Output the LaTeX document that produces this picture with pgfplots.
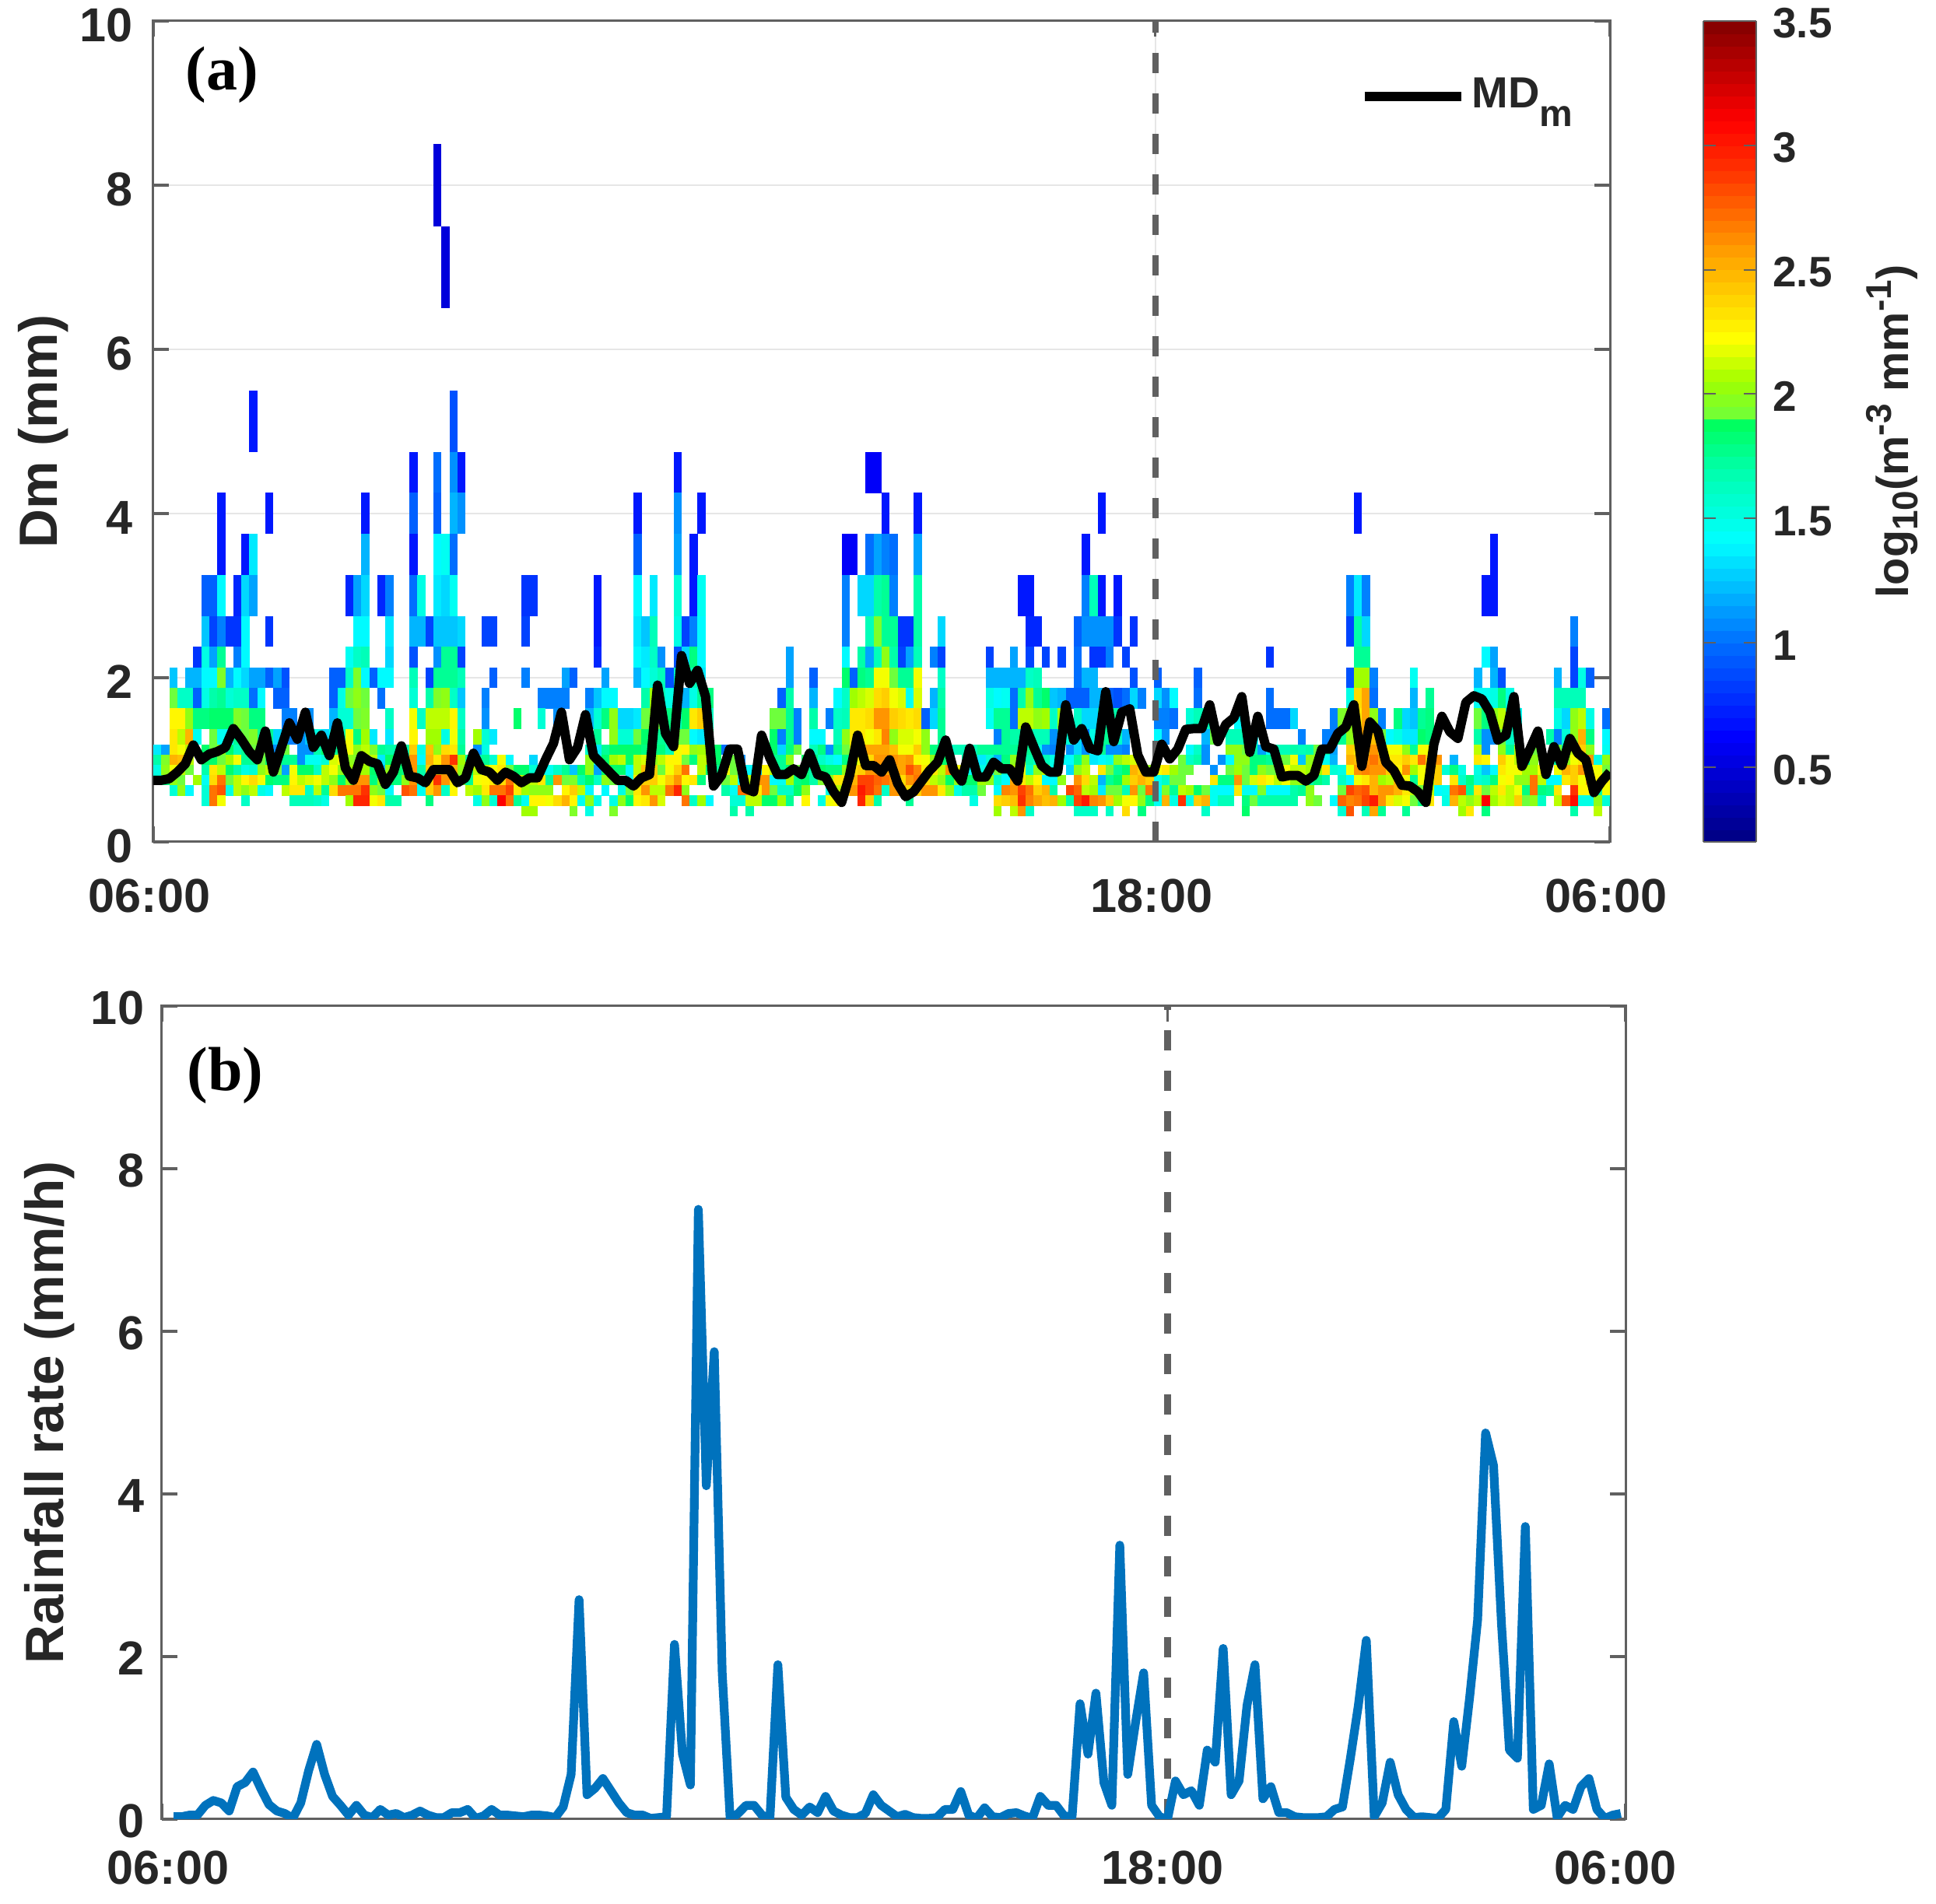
\documentclass[border=0pt]{standalone}
\usepackage{fontspec}
\setmainfont{Liberation Sans}
\newfontfamily\tnr{Liberation Serif}
\usepackage{pgfplots}
\pgfplotsset{compat=1.18}
\usetikzlibrary{plotmarks}
\definecolor{txt}{HTML}{262626}
\definecolor{axl}{HTML}{606060}
\definecolor{gridc}{HTML}{E6E6E6}
\definecolor{dashc}{HTML}{606060}
\definecolor{rainb}{HTML}{0072BD}
\newcommand\DefCell[2]{\pgfdeclareplotmark{c#1}{\pgfpathrectangle{\pgfpointorigin}{\pgfqpoint{2.62pt}{#2pt}}\pgfusepathqfill}}
\DefCell{A}{3.35}\DefCell{B}{5.0}\DefCell{C}{6.62}\DefCell{D}{9.92}\DefCell{E}{13.22}\DefCell{F}{19.8}\DefCell{G}{26.4}
\newcommand\Row[3]{\addplot[forget plot,scatter,only marks,mark=c#1,point meta=explicit] table[row sep=\\,x index=0,y expr=#2,meta index=1]{#3};}
\newcommand\tickf{\bfseries\fontsize{15.3}{15.3}\selectfont\color{txt}}
\newcommand\labf{\bfseries\fontsize{17.3}{17.3}\selectfont\color{txt}}
\newcommand\barf{\bfseries\fontsize{13.7}{13.7}\selectfont\color{txt}}
\newcommand\ssc[2]{\raisebox{#1}{\fontsize{11.5}{11.5}\selectfont #2}}
\pgfplotsset{
  common/.style={
    scale only axis, anchor=south west,
    ymin=0, ymax=10,
    ytick={0,2,4,6,8,10}, yticklabels={0,2,4,6,8,10},
    tick align=inside, major tick length=5pt,
    tick style={color=axl,line width=0.8pt},
    axis line style={color=axl,line width=0.75pt},
    tick label style={font=\tickf},
    label style={font=\labf},
  },
}
\begin{document}
\begin{tikzpicture}
\useasboundingbox (0,0) rectangle (622pt,611.75pt);
\begin{axis}[common,
  at={(49.25pt,341.25pt)}, width=468pt, height=263.75pt,
  xmin=0, xmax=182, xtick={0,125.2,182}, xticklabels={06:00,18:00,06:00},
  xticklabel style={yshift=-8.3pt,xshift=-1.2pt},
  yticklabel style={xshift=-3pt,yshift=-1.3pt},
  clip mode=individual,
  grid=major, grid style={color=gridc,line width=0.6pt},
  ylabel={Dm (mm)}, ylabel style={at={(axis description cs:-0.0,0.5)},yshift=23.8pt},
  colormap={jetbar}{rgb255(20)=(0,0,128) rgb255(62)=(0,0,255) rgb255(100)=(0,110,255) rgb255(141)=(0,255,255) rgb255(170)=(0,255,170) rgb255(189)=(0,255,90) rgb255(190)=(110,255,60) rgb255(205)=(160,255,0) rgb255(222)=(255,255,0) rgb255(255)=(255,165,0) rgb255(290)=(255,50,0) rgb255(310)=(255,0,0) rgb255(350)=(128,0,0)},
  point meta min=0.2, point meta max=3.5,
  colorbar sampled,
  colorbar style={
    samples=67, scale only axis, width=17pt, height=263.75pt,
    at={(parent axis.north east)}, anchor=north west, xshift=21.5pt,
    ytick={0.5,1,1.5,2,2.5,3,3.5}, yticklabels={0.5,1,1.5,2,2.5,3,3.5},
    yticklabel pos=right, ytick align=inside, major tick length=4pt,
    ytick style={color=axl,line width=0.5pt},
    axis line style={color=axl,line width=0.6pt},
    yticklabel style={font=\barf,xshift=1.8pt,yshift=-0.8pt},
    ylabel={log\ssc{-3pt}{10}(m\ssc{5.5pt}{-3} mm\ssc{5.5pt}{-1})},
    ylabel style={font=\bfseries\fontsize{14.4}{14.4}\selectfont\color{txt},yshift=-4pt},
  },
  legend style={at={(axis cs:150.7,9.08)},anchor=west,draw=none,fill=none,inner sep=0pt,font=\bfseries\fontsize{14}{14}\selectfont\color{txt}},
  legend image code/.code={\draw[#1] (0pt,0pt) -- (31pt,0pt);},
]
\Row{G}{7.5}{35 0.5\\}
\Row{G}{6.5}{36 0.5\\}
\Row{F}{4.75}{12 0.7\\ 37 0.9\\}
\Row{E}{4.25}{32 0.7\\ 35 1.0\\ 37 1.1\\ 38 0.7\\ 65 0.7\\ 89 0.6\\ 90 0.6\\}
\Row{E}{3.75}{8 0.7\\ 14 0.7\\ 26 0.7\\ 32 0.95\\ 35 0.95\\ 37 1.2\\ 38 1.1\\ 60 0.7\\ 65 1.1\\ 68 0.7\\ 91 0.7\\ 95 0.7\\ 118 0.7\\ 150 0.7\\}
\Row{E}{3.25}{8 0.7\\ 11 0.7\\ 12 1.35\\ 26 1.2\\ 32 0.7\\ 35 1.4\\ 36 1.45\\ 37 1.0\\ 60 0.95\\ 65 1.15\\ 67 0.7\\ 86 0.6\\ 87 0.6\\ 89 1.0\\ 90 1.15\\ 91 1.05\\ 92 1.0\\ 95 1.15\\ 116 0.7\\ 167 0.7\\}
\Row{E}{2.75}{6 0.95\\ 7 0.95\\ 8 1.4\\ 10 0.75\\ 11 1.3\\ 12 1.15\\ 24 0.75\\ 25 1.15\\ 26 1.3\\ 28 0.75\\ 29 1.05\\ 32 1.0\\ 33 1.5\\ 35 1.35\\ 36 1.3\\ 37 1.45\\ 46 0.8\\ 47 0.8\\ 55 0.7\\ 60 1.4\\ 62 1.35\\ 65 1.55\\ 67 0.7\\ 68 1.45\\ 86 1.05\\ 88 1.3\\ 89 1.3\\ 90 1.7\\ 91 1.75\\ 92 1.05\\ 95 1.7\\ 108 0.7\\ 109 0.7\\ 116 1.05\\ 117 1.65\\ 118 0.7\\ 120 0.7\\ 149 1.05\\ 150 1.35\\ 151 1.05\\ 166 0.7\\ 167 0.7\\}
\Row{D}{2.375}{6 1.25\\ 7 0.85\\ 8 1.05\\ 9 0.8\\ 10 0.8\\ 11 1.4\\ 14 0.8\\ 25 1.4\\ 26 1.4\\ 29 1.35\\ 32 1.2\\ 33 1.2\\ 34 0.85\\ 35 1.25\\ 36 1.25\\ 37 1.25\\ 38 1.3\\ 41 0.85\\ 42 0.85\\ 46 0.85\\ 55 0.7\\ 60 1.35\\ 61 1.25\\ 62 1.65\\ 65 1.5\\ 66 0.85\\ 67 1.05\\ 68 1.4\\ 86 1.05\\ 89 1.65\\ 90 1.95\\ 91 1.75\\ 92 1.75\\ 93 0.8\\ 94 0.8\\ 95 1.7\\ 98 1.3\\ 109 0.75\\ 110 0.75\\ 115 0.95\\ 116 1.1\\ 117 1.1\\ 118 1.1\\ 119 1.1\\ 120 0.8\\ 122 0.8\\ 149 0.85\\ 150 1.7\\ 151 1.3\\ 177 1.05\\}
\Row{C}{2.125}{5 0.8\\ 6 1.5\\ 7 1.15\\ 8 1.75\\ 10 1.05\\ 11 1.4\\ 24 1.45\\ 25 1.6\\ 26 1.65\\ 29 1.3\\ 32 0.9\\ 35 1.1\\ 36 1.75\\ 37 1.75\\ 38 0.85\\ 55 0.75\\ 60 1.4\\ 61 1.35\\ 62 1.6\\ 63 1.1\\ 65 0.9\\ 66 1.3\\ 67 1.8\\ 68 1.4\\ 79 1.15\\ 86 1.4\\ 88 1.7\\ 89 1.15\\ 90 1.65\\ 91 2.0\\ 92 1.7\\ 93 0.85\\ 94 1.15\\ 95 1.65\\ 97 1.05\\ 98 0.85\\ 104 0.85\\ 107 1.15\\ 109 0.85\\ 111 0.85\\ 113 0.85\\ 115 1.0\\ 117 0.8\\ 118 0.8\\ 119 1.05\\ 121 0.85\\ 139 0.8\\ 150 1.75\\ 151 1.75\\ 166 1.4\\ 167 1.15\\ 177 0.85\\}
\Row{C}{1.875}{2 1.25\\ 4 1.2\\ 5 1.2\\ 6 1.4\\ 7 1.4\\ 8 1.95\\ 9 1.2\\ 10 1.4\\ 11 1.3\\ 12 1.15\\ 13 1.15\\ 14 0.95\\ 15 1.15\\ 16 0.9\\ 22 0.95\\ 23 0.95\\ 24 1.6\\ 25 1.95\\ 26 1.4\\ 27 0.95\\ 28 1.4\\ 29 1.4\\ 32 1.65\\ 34 0.85\\ 35 1.75\\ 36 1.75\\ 37 1.75\\ 38 1.65\\ 42 0.95\\ 46 1.05\\ 51 1.15\\ 52 0.95\\ 56 1.15\\ 60 1.2\\ 61 1.4\\ 62 1.55\\ 63 1.65\\ 64 0.9\\ 65 1.6\\ 67 1.65\\ 68 1.35\\ 79 1.15\\ 82 0.95\\ 86 1.85\\ 87 0.95\\ 88 1.8\\ 89 1.75\\ 90 2.2\\ 91 2.2\\ 92 1.9\\ 93 1.75\\ 94 1.75\\ 95 2.2\\ 98 1.6\\ 104 1.2\\ 105 1.2\\ 106 1.2\\ 107 1.2\\ 108 1.2\\ 109 1.6\\ 110 1.65\\ 115 1.0\\ 116 1.2\\ 117 1.2\\ 122 0.9\\ 125 0.95\\ 130 0.95\\ 149 0.9\\ 150 2.05\\ 151 2.05\\ 152 1.05\\ 157 1.45\\ 165 1.2\\ 167 1.2\\ 168 0.9\\ 175 1.2\\ 177 0.85\\ 178 1.5\\ 179 0.95\\}
\Row{C}{1.625}{2 1.9\\ 3 1.6\\ 4 1.6\\ 5 0.95\\ 6 1.5\\ 7 1.7\\ 8 1.75\\ 9 1.55\\ 10 1.6\\ 11 1.6\\ 12 1.0\\ 13 1.4\\ 15 0.95\\ 16 0.95\\ 22 0.95\\ 23 1.5\\ 24 1.9\\ 25 2.0\\ 26 1.9\\ 28 1.0\\ 32 1.55\\ 34 1.7\\ 35 1.95\\ 36 2.0\\ 37 1.6\\ 38 1.25\\ 41 1.05\\ 48 1.05\\ 49 1.05\\ 50 1.05\\ 51 1.05\\ 54 1.05\\ 55 1.25\\ 56 1.4\\ 57 1.4\\ 61 1.7\\ 62 2.05\\ 63 1.65\\ 64 1.5\\ 65 1.4\\ 66 1.2\\ 67 1.5\\ 68 1.75\\ 69 1.8\\ 78 0.95\\ 79 1.7\\ 82 1.2\\ 85 1.4\\ 86 1.6\\ 87 2.05\\ 88 2.1\\ 89 2.15\\ 90 2.35\\ 91 2.4\\ 92 2.2\\ 93 2.15\\ 94 1.45\\ 95 2.15\\ 97 1.2\\ 98 1.7\\ 104 1.5\\ 105 1.4\\ 106 1.45\\ 107 1.0\\ 108 1.7\\ 109 2.0\\ 110 1.75\\ 111 1.85\\ 112 1.25\\ 113 1.2\\ 114 0.95\\ 115 0.95\\ 116 0.95\\ 117 1.2\\ 118 1.2\\ 119 0.95\\ 120 0.9\\ 121 1.0\\ 122 1.3\\ 123 1.05\\ 125 1.3\\ 126 1.1\\ 127 1.4\\ 130 1.0\\ 139 1.0\\ 149 1.5\\ 150 2.35\\ 151 2.55\\ 152 1.0\\ 157 1.2\\ 159 1.75\\ 165 1.45\\ 166 1.45\\ 167 1.5\\ 168 1.8\\ 169 1.5\\ 175 1.65\\ 176 1.65\\ 177 1.65\\ 178 1.65\\}
\Row{C}{1.375}{2 2.25\\ 3 2.25\\ 4 2.0\\ 5 1.8\\ 6 1.8\\ 7 1.85\\ 8 1.85\\ 9 1.85\\ 10 1.95\\ 11 1.9\\ 12 1.8\\ 13 1.8\\ 16 1.05\\ 17 1.05\\ 19 1.1\\ 22 1.2\\ 23 1.55\\ 24 1.55\\ 25 1.9\\ 26 1.95\\ 29 1.6\\ 32 2.2\\ 33 1.6\\ 34 2.1\\ 35 2.1\\ 36 2.1\\ 37 2.25\\ 38 1.6\\ 41 1.1\\ 45 1.85\\ 48 1.55\\ 50 1.1\\ 54 1.2\\ 55 1.55\\ 56 1.8\\ 57 2.0\\ 58 1.3\\ 59 1.3\\ 60 1.35\\ 61 1.9\\ 62 2.0\\ 63 1.9\\ 64 1.8\\ 65 1.65\\ 66 1.85\\ 67 2.3\\ 68 2.4\\ 69 1.6\\ 77 1.9\\ 78 1.9\\ 79 1.75\\ 80 1.05\\ 82 1.7\\ 84 1.05\\ 85 1.6\\ 86 1.65\\ 87 2.3\\ 88 2.3\\ 89 2.35\\ 90 2.6\\ 91 2.6\\ 92 2.4\\ 93 2.35\\ 94 2.3\\ 95 2.35\\ 96 0.95\\ 97 1.3\\ 98 1.75\\ 104 1.45\\ 105 1.75\\ 106 1.75\\ 107 1.0\\ 108 2.1\\ 109 2.1\\ 110 2.0\\ 111 2.05\\ 112 1.6\\ 113 2.05\\ 115 1.6\\ 116 1.3\\ 117 1.3\\ 118 1.75\\ 119 1.7\\ 120 1.7\\ 125 1.05\\ 126 1.05\\ 127 1.0\\ 129 1.55\\ 130 1.65\\ 131 1.65\\ 135 1.4\\ 139 1.0\\ 140 1.0\\ 141 1.0\\ 142 1.3\\ 147 1.05\\ 148 1.95\\ 149 2.0\\ 150 2.3\\ 151 2.55\\ 152 2.0\\ 153 1.05\\ 155 1.8\\ 156 1.3\\ 157 1.25\\ 158 1.75\\ 159 1.8\\ 165 1.9\\ 166 1.8\\ 167 2.0\\ 168 2.1\\ 169 1.6\\ 170 1.45\\ 175 1.5\\ 176 1.3\\ 177 2.0\\ 178 2.1\\ 179 1.5\\ 181 1.0\\}
\Row{B}{1.187}{2 2.3\\ 3 2.1\\ 4 2.5\\ 5 1.45\\ 7 1.9\\ 8 1.45\\ 9 1.4\\ 10 1.75\\ 11 1.9\\ 12 1.95\\ 13 1.75\\ 14 1.75\\ 15 1.3\\ 16 1.1\\ 17 1.05\\ 18 1.1\\ 19 1.25\\ 20 1.5\\ 21 1.3\\ 22 1.5\\ 23 1.7\\ 24 2.2\\ 25 1.8\\ 26 2.05\\ 27 1.35\\ 29 1.35\\ 32 2.25\\ 34 2.05\\ 35 2.05\\ 36 1.5\\ 37 2.2\\ 38 1.7\\ 40 2.05\\ 41 1.55\\ 42 1.35\\ 55 1.75\\ 57 2.0\\ 58 1.55\\ 59 1.55\\ 60 1.9\\ 61 1.85\\ 62 1.75\\ 63 1.75\\ 64 1.7\\ 65 1.9\\ 66 1.9\\ 67 1.4\\ 68 1.35\\ 69 1.8\\ 77 1.85\\ 78 1.05\\ 79 1.75\\ 80 1.05\\ 82 1.4\\ 83 1.4\\ 85 1.65\\ 86 2.0\\ 87 2.3\\ 88 2.3\\ 89 2.2\\ 90 2.3\\ 91 2.65\\ 92 2.0\\ 93 2.15\\ 94 2.15\\ 95 2.2\\ 96 2.0\\ 98 1.75\\ 105 1.05\\ 106 1.75\\ 107 1.7\\ 108 1.7\\ 109 1.7\\ 110 1.65\\ 111 1.65\\ 112 1.1\\ 113 1.7\\ 114 1.55\\ 115 1.3\\ 116 1.0\\ 117 1.5\\ 118 1.75\\ 119 1.75\\ 120 1.6\\ 121 1.2\\ 125 1.4\\ 126 1.1\\ 131 1.2\\ 132 1.9\\ 134 1.65\\ 135 1.65\\ 136 1.65\\ 137 1.4\\ 143 1.05\\ 146 1.05\\ 147 1.05\\ 148 1.75\\ 149 2.0\\ 150 2.2\\ 151 2.55\\ 152 2.45\\ 153 1.9\\ 154 1.4\\ 155 1.5\\ 156 1.35\\ 157 1.35\\ 158 1.85\\ 159 1.8\\ 165 1.7\\ 166 1.1\\ 167 1.1\\ 168 1.9\\ 169 1.6\\ 174 1.7\\ 175 1.05\\ 176 1.55\\ 177 2.0\\ 178 2.5\\ 179 1.8\\ 181 1.4\\}
\Row{A}{1.062}{0 1.35\\ 1 1.15\\ 2 2.3\\ 3 2.2\\ 4 2.1\\ 6 1.85\\ 7 1.9\\ 8 2.0\\ 9 1.85\\ 10 1.65\\ 11 1.75\\ 12 1.9\\ 13 1.9\\ 14 1.1\\ 15 1.1\\ 16 1.9\\ 18 1.1\\ 19 1.1\\ 20 1.7\\ 21 1.85\\ 22 1.75\\ 23 2.1\\ 24 2.2\\ 25 2.0\\ 26 2.1\\ 27 1.95\\ 28 1.75\\ 29 1.7\\ 30 1.7\\ 31 1.7\\ 32 2.4\\ 33 1.5\\ 34 2.45\\ 35 2.0\\ 36 2.35\\ 37 2.3\\ 38 1.75\\ 40 1.1\\ 41 1.5\\ 54 1.6\\ 55 1.35\\ 56 1.75\\ 57 1.85\\ 58 1.85\\ 59 1.85\\ 60 1.85\\ 61 1.8\\ 62 1.8\\ 63 1.8\\ 64 1.65\\ 65 2.2\\ 66 2.25\\ 67 2.0\\ 68 2.05\\ 69 1.85\\ 70 1.85\\ 71 1.0\\ 77 1.85\\ 78 1.3\\ 79 1.8\\ 80 1.9\\ 82 1.65\\ 83 1.8\\ 84 1.1\\ 85 1.75\\ 86 1.9\\ 87 2.2\\ 88 2.3\\ 89 2.55\\ 90 2.55\\ 91 2.55\\ 92 2.45\\ 93 2.2\\ 94 2.2\\ 95 2.4\\ 96 2.0\\ 97 1.8\\ 98 1.75\\ 99 1.6\\ 100 1.65\\ 101 1.65\\ 102 1.65\\ 103 1.75\\ 104 1.75\\ 105 1.75\\ 106 1.75\\ 107 1.75\\ 108 1.85\\ 109 1.75\\ 110 1.5\\ 111 1.1\\ 112 1.05\\ 114 1.1\\ 115 1.3\\ 116 1.1\\ 117 1.4\\ 118 1.75\\ 119 1.1\\ 120 1.1\\ 121 1.05\\ 129 1.4\\ 130 1.6\\ 131 1.1\\ 134 2.0\\ 135 2.0\\ 136 1.9\\ 137 1.7\\ 138 1.15\\ 139 1.4\\ 140 1.65\\ 141 1.65\\ 142 1.7\\ 143 1.65\\ 144 1.7\\ 145 1.9\\ 146 1.7\\ 147 1.15\\ 149 2.4\\ 150 2.3\\ 151 2.4\\ 152 2.6\\ 153 2.3\\ 154 2.2\\ 155 2.2\\ 156 2.0\\ 157 1.75\\ 158 2.2\\ 159 2.2\\ 165 2.1\\ 166 1.1\\ 168 2.0\\ 169 1.75\\ 170 2.1\\ 172 1.9\\ 175 1.9\\ 176 1.7\\ 177 2.1\\ 178 2.4\\ 179 2.0\\ 181 1.45\\}
\Row{A}{0.937}{0 1.7\\ 1 1.95\\ 2 2.5\\ 3 2.45\\ 4 2.1\\ 6 1.85\\ 7 1.85\\ 8 1.9\\ 9 2.05\\ 10 2.2\\ 11 1.75\\ 12 1.75\\ 13 1.9\\ 14 1.85\\ 15 1.75\\ 16 1.75\\ 17 1.75\\ 18 1.1\\ 19 1.45\\ 20 1.45\\ 21 1.55\\ 22 2.15\\ 23 2.25\\ 24 2.0\\ 25 1.95\\ 26 2.1\\ 27 2.1\\ 28 1.35\\ 29 1.85\\ 30 1.8\\ 31 1.7\\ 32 2.6\\ 33 1.4\\ 34 2.5\\ 35 2.3\\ 36 2.6\\ 37 2.9\\ 38 2.05\\ 39 1.75\\ 40 1.65\\ 41 1.75\\ 42 1.55\\ 43 2.2\\ 44 1.4\\ 47 1.3\\ 54 2.0\\ 55 1.5\\ 56 1.85\\ 57 2.05\\ 58 2.1\\ 59 1.85\\ 60 2.1\\ 61 2.15\\ 62 2.0\\ 63 2.1\\ 64 2.25\\ 65 2.25\\ 66 1.9\\ 67 1.8\\ 68 2.1\\ 69 2.1\\ 70 1.85\\ 72 1.9\\ 73 1.1\\ 77 1.75\\ 78 1.75\\ 79 2.0\\ 81 1.85\\ 82 1.8\\ 83 1.6\\ 84 1.5\\ 85 1.4\\ 86 1.8\\ 87 2.05\\ 88 2.2\\ 89 2.35\\ 90 2.6\\ 91 2.6\\ 92 2.6\\ 93 2.55\\ 94 2.6\\ 95 2.25\\ 96 2.2\\ 97 2.0\\ 98 1.85\\ 99 1.85\\ 101 1.7\\ 102 1.75\\ 103 1.35\\ 104 1.55\\ 105 1.2\\ 106 1.8\\ 107 2.0\\ 108 2.1\\ 109 1.7\\ 110 1.6\\ 111 1.65\\ 112 1.5\\ 113 1.45\\ 114 1.4\\ 115 1.75\\ 116 2.0\\ 117 1.35\\ 118 1.4\\ 119 1.5\\ 120 2.0\\ 121 2.1\\ 122 2.15\\ 128 1.9\\ 129 1.6\\ 130 1.7\\ 131 1.1\\ 133 1.1\\ 134 1.4\\ 135 2.0\\ 136 2.0\\ 137 1.8\\ 138 1.8\\ 139 1.75\\ 140 1.9\\ 141 1.9\\ 142 2.2\\ 143 1.25\\ 144 2.0\\ 145 2.0\\ 146 1.45\\ 147 1.2\\ 149 2.5\\ 150 2.45\\ 151 2.6\\ 152 2.7\\ 153 2.55\\ 154 2.3\\ 155 2.3\\ 156 2.4\\ 157 2.3\\ 158 2.7\\ 159 2.4\\ 160 2.6\\ 162 1.2\\ 165 2.3\\ 166 2.25\\ 168 2.4\\ 169 2.2\\ 170 2.1\\ 171 1.8\\ 172 2.0\\ 175 1.7\\ 176 2.0\\ 177 2.2\\ 178 2.3\\ 179 2.6\\ 180 1.5\\ 181 2.0\\}
\Row{A}{0.812}{0 1.5\\ 1 2.0\\ 2 2.2\\ 3 2.1\\ 4 1.9\\ 6 1.7\\ 7 2.3\\ 8 2.1\\ 9 1.85\\ 10 1.7\\ 11 1.5\\ 12 1.55\\ 13 2.0\\ 14 2.1\\ 15 1.9\\ 16 1.15\\ 17 2.2\\ 18 1.85\\ 19 1.85\\ 20 1.6\\ 21 2.1\\ 22 2.2\\ 23 2.0\\ 24 2.05\\ 25 2.05\\ 26 2.05\\ 27 1.85\\ 28 1.2\\ 29 2.0\\ 30 1.85\\ 31 1.8\\ 32 2.6\\ 33 1.7\\ 34 2.4\\ 35 2.45\\ 36 2.55\\ 37 2.5\\ 38 2.0\\ 39 1.85\\ 40 2.1\\ 41 2.1\\ 42 2.2\\ 43 2.3\\ 44 1.9\\ 45 1.85\\ 46 1.85\\ 47 1.55\\ 48 1.5\\ 49 1.45\\ 50 1.6\\ 51 1.75\\ 52 1.25\\ 53 1.85\\ 54 2.0\\ 55 1.15\\ 56 1.85\\ 57 1.85\\ 58 1.85\\ 59 1.4\\ 60 2.1\\ 61 2.45\\ 62 2.4\\ 63 1.9\\ 64 2.2\\ 65 2.4\\ 66 2.7\\ 68 2.1\\ 69 1.85\\ 70 1.75\\ 71 2.2\\ 72 1.9\\ 73 1.5\\ 74 1.4\\ 75 1.2\\ 76 2.25\\ 77 2.1\\ 78 1.75\\ 79 1.85\\ 80 1.9\\ 81 1.8\\ 82 1.7\\ 83 1.85\\ 84 1.8\\ 85 1.8\\ 86 2.0\\ 87 2.35\\ 88 2.4\\ 89 2.6\\ 90 2.6\\ 91 2.55\\ 92 2.55\\ 93 2.55\\ 94 2.8\\ 95 2.65\\ 96 2.3\\ 97 2.3\\ 98 2.1\\ 99 2.6\\ 100 2.2\\ 101 1.5\\ 102 1.4\\ 103 1.5\\ 104 1.5\\ 105 1.9\\ 106 1.55\\ 107 2.1\\ 108 2.2\\ 109 1.6\\ 110 2.0\\ 111 2.1\\ 112 1.5\\ 114 1.3\\ 115 2.0\\ 116 2.1\\ 118 2.3\\ 119 1.9\\ 120 1.75\\ 121 1.85\\ 122 2.5\\ 123 2.4\\ 124 2.0\\ 125 2.2\\ 126 2.3\\ 127 2.05\\ 128 1.9\\ 129 1.9\\ 132 1.1\\ 134 1.9\\ 135 2.05\\ 136 1.9\\ 137 1.8\\ 138 2.0\\ 139 1.9\\ 140 1.9\\ 141 2.2\\ 142 2.1\\ 143 2.1\\ 144 2.05\\ 145 2.05\\ 146 2.3\\ 147 1.55\\ 148 1.5\\ 149 2.2\\ 150 2.6\\ 151 2.65\\ 152 2.6\\ 153 2.6\\ 154 2.4\\ 155 2.25\\ 156 2.6\\ 157 2.05\\ 158 2.2\\ 159 2.35\\ 160 2.4\\ 161 1.55\\ 162 1.8\\ 163 1.5\\ 165 1.5\\ 166 1.25\\ 167 1.4\\ 168 2.3\\ 169 2.2\\ 170 2.2\\ 171 2.05\\ 172 2.05\\ 173 2.2\\ 175 2.2\\ 176 2.5\\ 177 2.4\\ 178 2.6\\ 179 2.2\\ 180 2.2\\ 181 1.9\\}
\Row{A}{0.687}{0 1.6\\ 1 1.8\\ 2 2.0\\ 3 1.9\\ 5 2.05\\ 6 1.45\\ 7 2.35\\ 8 2.7\\ 9 1.9\\ 10 2.1\\ 11 2.25\\ 12 2.35\\ 13 2.2\\ 14 1.85\\ 15 1.8\\ 16 1.8\\ 17 2.25\\ 18 2.1\\ 19 2.15\\ 20 2.2\\ 21 2.1\\ 22 2.0\\ 23 1.85\\ 24 2.0\\ 25 2.6\\ 26 2.6\\ 27 1.8\\ 28 2.0\\ 29 1.85\\ 30 1.8\\ 31 2.0\\ 32 2.6\\ 33 1.6\\ 34 2.4\\ 35 2.9\\ 36 2.6\\ 37 2.3\\ 38 1.9\\ 39 1.75\\ 40 2.2\\ 41 2.25\\ 42 2.3\\ 43 2.35\\ 44 2.7\\ 45 2.3\\ 46 2.05\\ 47 2.1\\ 48 2.3\\ 49 1.75\\ 50 2.6\\ 51 1.9\\ 52 1.95\\ 53 1.7\\ 54 1.85\\ 55 1.6\\ 56 2.0\\ 57 1.9\\ 59 1.5\\ 60 2.3\\ 61 2.4\\ 62 2.4\\ 63 2.2\\ 64 2.4\\ 65 2.6\\ 66 2.25\\ 67 2.3\\ 68 1.8\\ 71 1.9\\ 72 2.1\\ 73 1.4\\ 74 2.1\\ 75 2.6\\ 76 2.6\\ 77 1.4\\ 78 1.45\\ 79 2.05\\ 80 1.8\\ 81 1.85\\ 82 1.7\\ 83 1.95\\ 84 2.0\\ 85 2.3\\ 86 2.3\\ 87 2.5\\ 88 2.85\\ 89 2.85\\ 90 2.75\\ 91 2.7\\ 92 2.6\\ 93 2.35\\ 94 2.6\\ 95 2.7\\ 96 2.35\\ 97 2.1\\ 98 2.0\\ 99 1.85\\ 100 2.0\\ 101 1.85\\ 102 1.85\\ 103 2.05\\ 104 2.0\\ 105 1.6\\ 106 1.4\\ 107 2.55\\ 108 2.3\\ 109 2.1\\ 110 2.25\\ 111 1.4\\ 112 1.4\\ 113 2.0\\ 115 2.6\\ 116 2.35\\ 117 2.1\\ 118 1.2\\ 119 1.75\\ 120 1.85\\ 121 2.05\\ 122 2.4\\ 123 2.5\\ 124 2.4\\ 125 1.45\\ 126 1.6\\ 127 1.9\\ 128 1.9\\ 132 2.3\\ 133 1.8\\ 134 1.8\\ 135 2.6\\ 136 1.9\\ 137 2.15\\ 138 2.3\\ 139 2.2\\ 140 2.1\\ 141 2.2\\ 142 2.0\\ 143 2.0\\ 144 1.7\\ 145 1.8\\ 146 1.7\\ 148 1.6\\ 149 1.4\\ 150 2.2\\ 151 2.3\\ 152 2.5\\ 153 2.05\\ 154 2.1\\ 155 2.5\\ 156 2.2\\ 157 1.75\\ 158 2.2\\ 159 2.1\\ 160 2.4\\ 162 2.3\\ 163 1.6\\ 164 1.8\\ 165 1.55\\ 166 1.6\\ 167 1.8\\ 168 2.2\\ 169 2.25\\ 170 2.0\\ 171 2.0\\ 172 2.7\\ 173 2.1\\ 174 1.4\\ 175 1.4\\ 176 2.3\\ 177 2.4\\ 178 2.2\\ 179 2.5\\ 180 2.25\\ 181 2.25\\}
\Row{A}{0.562}{2 1.55\\ 3 2.0\\ 4 1.4\\ 6 1.55\\ 7 2.7\\ 8 2.8\\ 9 1.5\\ 10 2.1\\ 11 2.0\\ 12 2.1\\ 13 1.5\\ 14 1.4\\ 16 2.1\\ 17 2.3\\ 18 2.3\\ 19 1.6\\ 20 2.1\\ 21 1.75\\ 22 2.35\\ 23 2.7\\ 24 2.7\\ 25 2.7\\ 26 2.9\\ 27 2.0\\ 28 1.9\\ 29 1.4\\ 31 2.8\\ 32 2.7\\ 33 1.45\\ 34 2.4\\ 35 2.6\\ 36 1.6\\ 37 2.25\\ 39 2.1\\ 40 2.05\\ 41 2.3\\ 42 2.7\\ 43 2.7\\ 44 2.85\\ 45 2.3\\ 46 2.05\\ 47 2.0\\ 48 2.0\\ 49 2.0\\ 51 2.25\\ 52 2.4\\ 53 2.1\\ 54 1.4\\ 56 1.4\\ 58 1.5\\ 59 1.9\\ 60 2.3\\ 61 2.6\\ 62 2.1\\ 63 2.1\\ 64 2.7\\ 65 2.95\\ 66 2.0\\ 71 1.7\\ 72 1.45\\ 73 2.7\\ 74 2.7\\ 75 2.3\\ 76 2.6\\ 77 1.9\\ 78 1.6\\ 79 1.6\\ 80 1.85\\ 81 2.0\\ 84 1.5\\ 85 2.1\\ 86 2.4\\ 87 2.6\\ 88 3.0\\ 89 2.85\\ 90 2.7\\ 91 1.6\\ 92 2.6\\ 93 2.55\\ 94 2.35\\ 95 2.4\\ 96 2.6\\ 97 2.6\\ 98 2.3\\ 99 2.0\\ 100 1.5\\ 101 1.7\\ 102 1.7\\ 103 1.9\\ 105 1.4\\ 106 2.65\\ 107 2.6\\ 108 2.85\\ 109 2.7\\ 110 2.4\\ 111 2.5\\ 112 1.7\\ 114 2.85\\ 115 2.75\\ 116 2.1\\ 117 2.05\\ 118 1.35\\ 119 1.9\\ 120 1.9\\ 121 1.65\\ 122 2.6\\ 123 1.9\\ 124 2.7\\ 125 1.4\\ 126 1.95\\ 127 1.75\\ 128 2.1\\ 129 2.05\\ 130 1.85\\ 131 1.9\\ 132 1.45\\ 133 1.4\\ 134 1.4\\ 135 2.3\\ 136 1.45\\ 137 1.4\\ 138 1.95\\ 139 1.4\\ 140 1.4\\ 141 1.4\\ 142 1.7\\ 143 1.75\\ 144 2.0\\ 148 1.9\\ 149 2.85\\ 150 2.75\\ 151 2.8\\ 152 2.5\\ 153 2.6\\ 154 2.6\\ 155 2.5\\ 156 2.3\\ 157 2.1\\ 158 1.9\\ 159 2.1\\ 160 1.4\\ 161 1.45\\ 162 2.7\\ 163 2.8\\ 164 1.75\\ 165 2.3\\ 166 1.9\\ 167 2.1\\ 168 2.3\\ 169 2.1\\ 170 2.2\\ 171 1.8\\ 172 2.7\\ 173 1.8\\ 174 1.75\\ 175 2.3\\ 177 2.9\\ 178 2.25\\ 179 2.25\\ 180 1.7\\ 181 2.2\\}
\Row{A}{0.437}{6 1.55\\ 7 2.7\\ 8 2.2\\ 11 1.6\\ 17 1.65\\ 18 1.65\\ 19 1.65\\ 20 1.6\\ 21 1.5\\ 24 2.05\\ 25 2.95\\ 26 2.95\\ 27 2.2\\ 28 2.3\\ 29 1.7\\ 30 1.7\\ 34 1.8\\ 40 1.5\\ 41 2.0\\ 42 1.55\\ 43 3.1\\ 44 2.7\\ 45 1.75\\ 46 1.45\\ 47 2.25\\ 48 2.25\\ 49 2.2\\ 50 2.35\\ 51 2.5\\ 52 2.25\\ 53 1.45\\ 54 2.0\\ 55 1.5\\ 57 1.5\\ 58 2.0\\ 59 1.85\\ 60 2.25\\ 61 2.3\\ 62 2.6\\ 63 2.15\\ 66 2.7\\ 67 1.6\\ 68 2.05\\ 69 1.4\\ 72 1.55\\ 73 1.55\\ 74 2.1\\ 75 2.1\\ 76 1.85\\ 77 1.85\\ 78 2.05\\ 79 1.75\\ 81 2.25\\ 83 1.5\\ 84 2.2\\ 85 2.25\\ 88 2.95\\ 89 2.4\\ 90 1.7\\ 94 1.75\\ 102 1.5\\ 105 2.35\\ 106 2.4\\ 107 2.45\\ 108 2.9\\ 109 2.65\\ 110 2.55\\ 111 2.45\\ 112 2.5\\ 113 2.05\\ 114 1.7\\ 115 2.85\\ 116 3.0\\ 117 2.65\\ 118 2.6\\ 119 2.4\\ 120 2.05\\ 121 2.2\\ 122 2.25\\ 123 2.0\\ 124 1.8\\ 125 1.45\\ 126 2.5\\ 127 1.5\\ 128 2.9\\ 129 1.5\\ 130 2.4\\ 131 2.5\\ 132 1.45\\ 133 1.65\\ 134 1.65\\ 136 1.8\\ 137 1.9\\ 138 1.7\\ 139 1.7\\ 140 1.7\\ 141 1.7\\ 142 1.7\\ 144 2.0\\ 145 1.9\\ 147 1.4\\ 148 2.75\\ 149 2.65\\ 150 2.7\\ 151 2.85\\ 152 3.0\\ 153 2.6\\ 154 2.3\\ 155 2.15\\ 156 2.2\\ 157 1.9\\ 158 1.8\\ 159 2.3\\ 161 1.5\\ 162 2.5\\ 163 2.1\\ 164 2.0\\ 165 2.1\\ 166 3.1\\ 167 2.05\\ 168 2.15\\ 169 2.1\\ 170 2.4\\ 171 1.9\\ 172 2.0\\ 173 1.6\\ 175 2.1\\ 176 2.8\\ 177 3.05\\ 178 1.5\\ 179 1.5\\ 180 2.0\\ 181 1.55\\}
\Row{A}{0.312}{46 2.05\\ 47 2.05\\ 52 1.95\\ 54 1.5\\ 57 1.95\\ 72 1.7\\ 74 1.7\\ 105 2.05\\ 107 2.1\\ 108 2.6\\ 109 1.6\\ 115 1.6\\ 116 1.6\\ 117 1.6\\ 119 1.6\\ 121 2.35\\ 123 1.8\\ 131 1.6\\ 136 1.85\\ 148 1.55\\ 149 2.8\\ 151 1.65\\ 152 2.55\\ 153 1.75\\ 156 1.75\\ 163 2.05\\ 164 2.3\\ 166 1.8\\ 177 1.7\\ 180 2.1\\}
\addplot[forget plot,color=dashc,line width=2.1pt,dash pattern=on 6.5pt off 6.5pt] coordinates {(125.2,0) (125.2,10)};
\addplot[color=black,line width=3pt,line join=round] coordinates {
(0,.75)(1,.75)(2,.77)(3,.85)(4,.95)(5,1.18)(6,1.0)(7,1.07)(8,1.1)(9,1.15)
(10,1.38)(11,1.25)(12,1.1)(13,1.0)(14,1.35)(15,.85)(16,1.15)(17,1.45)(18,1.25)(19,1.58)
(20,1.15)(21,1.3)(22,1.05)(23,1.45)(24,.9)(25,.75)(26,1.05)(27,.98)(28,.95)(29,.7)
(30,.85)(31,1.17)(32,.8)(33,.78)(34,.72)(35,.88)(36,.88)(37,.88)(38,.72)(39,.78)
(40,1.08)(41,.88)(42,.85)(43,.75)(44,.85)(45,.8)(46,.72)(47,.78)(48,.78)(49,1.0)
(50,1.2)(51,1.58)(52,1.0)(53,1.15)(54,1.55)(55,1.05)(56,.95)(57,.85)(58,.75)(59,.75)
(60,.68)(61,.78)(62,.82)(63,1.91)(64,1.32)(65,1.16)(66,2.27)(67,1.93)(68,2.09)(69,1.77)
(70,.68)(71,.81)(72,1.13)(73,1.13)(74,.65)(75,.61)(76,1.3)(77,1.03)(78,.82)(79,.82)
(80,.89)(81,.82)(82,1.08)(83,.82)(84,.79)(85,.61)(86,.48)(87,.81)(88,1.3)(89,.93)
(90,.93)(91,.85)(92,1.0)(93,.71)(94,.55)(95,.61)(96,.74)(97,.87)(98,.97)(99,1.24)
(100,.87)(101,.74)(102,1.14)(103,.79)(104,.79)(105,.97)(106,.89)(107,.89)(108,.74)(109,1.4)
(110,1.16)(111,.93)(112,.85)(113,.85)(114,1.67)(115,1.24)(116,1.38)(117,1.14)(118,1.11)(119,1.83)
(120,1.22)(121,1.58)(122,1.62)(123,1.06)(124,.85)(125,.85)(126,1.19)(127,1.01)(128,1.13)(129,1.37)
(130,1.38)(131,1.38)(132,1.67)(133,1.22)(134,1.43)(135,1.51)(136,1.77)(137,1.09)(138,1.53)(139,1.16)
(140,1.13)(141,.79)(142,.81)(143,.81)(144,.74)(145,.81)(146,1.13)(147,1.13)(148,1.32)(149,1.4)
(150,1.67)(151,.92)(152,1.46)(153,1.35)(154,.97)(155,.87)(156,.69)(157,.68)(158,.61)(159,.48)
(160,1.19)(161,1.53)(162,1.34)(163,1.26)(164,1.7)(165,1.78)(166,1.74)(167,1.58)(168,1.24)(169,1.3)
(170,1.77)(171,.92)(172,1.13)(173,1.35)(174,.82)(175,1.16)(176,.93)(177,1.26)(178,1.08)(179,1.0)
(180,.6)(181,.74)(182,.85)};
\addlegendentry{\raisebox{0.8pt}{MD}\raisebox{-5.2pt}{\fontsize{12}{12}\selectfont m}}
\node[font=\tnr\bfseries\fontsize{20}{20}\selectfont,color=black] at (axis cs:8.6,9.34) {(a)};
\end{axis}
\begin{axis}[common,
  at={(52pt,27.25pt)}, width=470.25pt, height=261.25pt,
  xmin=-1.47, xmax=182.6, xtick={-1.47,125,182.6},
  xticklabels={\hspace*{7.2pt}06:00,18:00,06:00\hspace*{3.2pt}},
  xticklabel style={yshift=-6.7pt,xshift=-1.6pt},
  yticklabel style={xshift=-2.2pt,yshift=-0.5pt},
  ylabel={Rainfall rate (mm/h)}, ylabel style={at={(axis description cs:-0.0,0.5)},yshift=24.6pt},
]
\addplot[color=dashc,line width=2.1pt,dash pattern=on 6.5pt off 6.5pt] coordinates {(125,0) (125,10)};
\addplot[color=rainb,line width=2.8pt,line join=round] coordinates {
(0,.03)(1,.03)(2,.05)(3,.05)(4,.17)(5,.23)(6,.2)(7,.1)(8,.4)(9,.45)
(10,.58)(11,.37)(12,.18)(13,.1)(14,.07)(15,.01)(16,.2)(17,.6)(18,.92)(19,.55)
(20,.28)(21,.17)(22,.05)(23,.17)(24,.05)(25,.02)(26,.12)(27,.05)(28,.07)(29,.02)
(30,.05)(31,.1)(32,.05)(33,.02)(34,.02)(35,.08)(36,.08)(37,.12)(38,.01)(39,.04)
(40,.12)(41,.05)(42,.05)(43,.04)(44,.03)(45,.05)(46,.05)(47,.04)(48,.02)(49,.15)
(50,.55)(51,2.7)(52,.3)(53,.38)(54,.5)(55,.35)(56,.2)(57,.08)(58,.05)(59,.05)
(60,.01)(61,.02)(62,.03)(63,2.15)(64,.8)(65,.42)(66,7.5)(67,4.1)(68,5.75)(69,1.8)
(70,0)(71,.07)(72,.17)(73,.17)(74,.05)(75,.01)(76,1.9)(77,.27)(78,.12)(79,.05)
(80,.15)(81,.08)(82,.28)(83,.1)(84,.05)(85,.02)(86,.02)(87,.07)(88,.3)(89,.17)
(90,.1)(91,.03)(92,.06)(93,.02)(94,.01)(95,.01)(96,.02)(97,.12)(98,.12)(99,.34)
(100,.05)(101,.01)(102,.14)(103,.03)(104,.02)(105,.07)(106,.08)(107,.04)(108,.01)(109,.28)
(110,.17)(111,.17)(112,.04)(113,.03)(114,1.42)(115,.8)(116,1.55)(117,.45)(118,.17)(119,3.37)
(120,.55)(121,1.2)(122,1.8)(123,.17)(124,.03)(125,0)(126,.47)(127,.3)(128,.35)(129,.17)
(130,.85)(131,.7)(132,2.1)(133,.3)(134,.47)(135,1.4)(136,1.9)(137,.25)(138,.4)(139,.08)
(140,.08)(141,.03)(142,.02)(143,.02)(144,.02)(145,.03)(146,.12)(147,.15)(148,.75)(149,1.4)
(150,2.2)(151,.03)(152,.2)(153,.7)(154,.3)(155,.12)(156,.02)(157,.03)(158,.02)(159,.01)
(160,.12)(161,1.2)(162,.65)(163,1.5)(164,2.45)(165,4.75)(166,4.35)(167,2.4)(168,.85)(169,.75)
(170,3.6)(171,.12)(172,.17)(173,.68)(174,.02)(175,.17)(176,.12)(177,.4)(178,.5)(179,.12)
(180,.01)(181,.05)(182,.07)};
\node[font=\tnr\bfseries\fontsize{20}{20}\selectfont,color=black] at (axis cs:6.5,9.15) {(b)};
\end{axis}
\end{tikzpicture}
\end{document}
